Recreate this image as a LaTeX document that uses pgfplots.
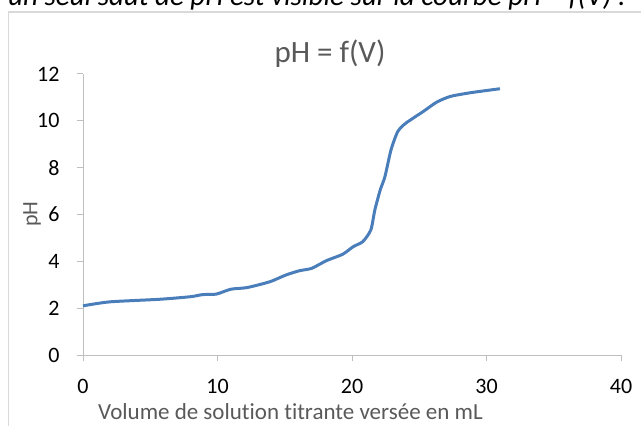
\documentclass[border=0pt]{standalone}
\usepackage{pgfplots}
\pgfplotsset{compat=1.18}
\usepackage{fontspec}
\setmainfont{Carlito}[Ligatures=NoCommon]
\definecolor{lineblue}{HTML}{4A7EBB}
\definecolor{axgray}{HTML}{BFBFBF}
\definecolor{txtgray}{HTML}{595959}
\definecolor{framegray}{HTML}{D9D9D9}
\begin{document}
\begin{tikzpicture}[x=1bp,y=1bp]
\clip (0,0) rectangle (641,425);
\draw[framegray, line width=1.2bp] (8.5,-10) -- (8.5,413) -- (660,413);
\node[anchor=base west, inner sep=0pt, font=\fontsize{29bp}{29bp}\selectfont\itshape] at (8,419) {un seul saut de pH est visible sur la courbe pH = f(V) :};
\node[anchor=base, inner sep=0pt, font=\fontsize{31bp}{31bp}\selectfont, text=txtgray] at (330,363) {pH = f(V)};
\node[anchor=base west, inner sep=0pt, font=\fontsize{23bp}{23bp}\selectfont, text=txtgray] at (98,6) {Volume de solution titrante versée en mL};
\node[rotate=90, inner sep=0pt, font=\fontsize{22bp}{22bp}\selectfont, text=txtgray] at (32,211) {pH};
\begin{axis}[
  at={(83bp,70bp)}, anchor=south west,
  scale only axis, width=538bp, height=281bp,
  xmin=0, xmax=40, ymin=0, ymax=12,
  xtick={0,10,...,40}, ytick={0,2,...,12},
  axis lines*=left,
  axis line style={draw=axgray, line width=1bp},
  tick style={draw=axgray, line width=1bp},
  tick align=outside, major tick length=6bp,
  /pgf/number format/assume math mode=true,
  ticklabel style={font=\fontsize{22bp}{22bp}\selectfont, text=black},
  xticklabel style={yshift=-15bp},
  yticklabel style={xshift=-14bp},
  clip=false,
]
\addplot[lineblue, line width=3bp, smooth, tension=0.4] coordinates {
(0,2.1) (2.0,2.27) (5.7,2.38) (8.0,2.49) (8.9,2.58) (9.9,2.6) (11.0,2.81)
(12.2,2.88) (13.9,3.13) (15.1,3.42) (16.1,3.6) (17.0,3.7) (18.1,4.03)
(19.3,4.3) (20.1,4.63) (20.8,4.84) (21.4,5.34) (21.7,6.2) (22.1,7.05)
(22.45,7.62) (22.9,8.76) (23.4,9.54) (24.0,9.9) (25.3,10.4) (26.3,10.8)
(27.3,11.04) (28.8,11.2) (31.0,11.37)
};
\end{axis}
\end{tikzpicture}
\end{document}
